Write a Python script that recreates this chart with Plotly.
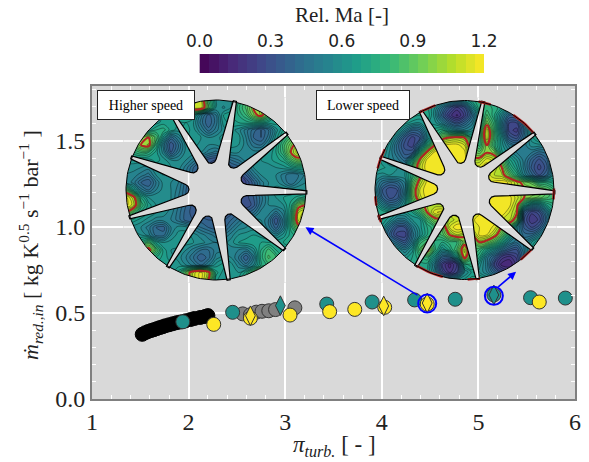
import math
import plotly.graph_objects as go

# --- scatter data -----------------------------------------------------------
black_x = [1.52, 1.55, 1.58, 1.61, 1.64, 1.67, 1.70, 1.73, 1.76, 1.80, 1.84, 1.88, 1.92, 1.97, 2.02, 2.06, 2.12, 2.17, 2.20]
black_y = [.376, .385, .392, .398, .403, .409, .415, .420, .426, .432, .438, .444, .448, .455, .462, .468, .474, .480, .485]
grey_x = [2.56, 2.64, 2.70, 2.76, 2.83, 2.90, 3.10]
grey_y = [.495, .490, .505, .510, .513, .520, .530]
teal_x = [1.94, 2.456, 3.43, 3.90, 4.34, 4.76, 5.16, 5.54, 5.90]
teal_y = [.449, .504, .552, .564, .576, .580, .605, .589, .587]
yellow_x = [2.26, 2.64, 3.05, 3.46, 3.72, 4.03, 4.47, 5.63]
yellow_y = [.434, .470, .488, .508, .521, .533, .552, .564]
dia_yellow_x = [2.64, 4.02, 4.47]
dia_yellow_y = [.484, .541, .558]
dia_teal_x = [2.95, 5.16]
dia_teal_y = [.543, .605]
ring_x = [4.47, 5.16]
ring_y = [.555, .600]

# --- colour bar ---------------------------------------------------------------
cbar_ticks = [0.0, 0.3, 0.6, 0.9, 1.2]
levels_start, levels_end, levels_size = 0.0, 1.2, 0.04
sonic_level = 1.0

# --- contour fields, percent of Mach, rows top to bottom ----
grid_axis = [-1 + i / 12 for i in range(25)]
field_high = [
[60,60,60,60,60,60,60,70,85,100,110,80,60,60,60,70,80,90,95,85,70,60,60,60,60],
[60,60,60,60,60,65,75,85,100,112,112,85,60,55,60,75,85,100,105,90,70,60,60,60,60],
[60,60,60,60,60,65,65,65,70,68,50,38,48,64,68,72,80,95,105,85,68,60,60,60,60],
[60,60,60,60,62,66,66,64,64,60,46,36,46,62,66,68,70,72,70,66,66,62,60,60,60],
[60,60,62,66,72,74,66,62,66,62,52,42,50,58,62,58,50,42,36,44,58,68,70,72,70],
[70,80,95,100,85,62,42,52,64,64,60,56,58,62,64,62,52,40,36,46,62,74,85,95,95],
[70,85,100,105,75,50,32,44,58,62,58,56,56,60,62,60,54,46,44,54,66,82,95,108,100],
[70,75,80,76,66,54,36,48,58,58,56,50,46,52,56,56,54,54,56,60,68,80,100,112,100],
[62,62,62,62,66,62,56,56,56,50,42,34,32,35,44,48,54,58,60,62,66,70,85,95,90],
[58,58,56,54,60,62,60,58,50,40,34,30,30,32,34,38,46,56,58,58,60,62,66,70,68],
[56,54,50,46,56,60,58,56,48,38,32,30,30,30,30,28,36,48,56,56,56,50,44,48,54],
[56,50,40,36,48,58,56,52,42,34,30,30,30,30,28,26,28,38,50,56,58,52,44,52,56],
[90,66,50,44,52,58,56,50,40,32,30,30,30,30,28,28,30,38,50,58,62,62,60,60,58],
[118,105,72,60,60,58,56,48,40,32,30,30,30,30,28,28,30,36,46,56,60,64,66,70,75],
[118,110,80,66,60,58,56,48,40,34,30,30,30,30,30,30,28,34,48,56,58,60,70,95,100],
[100,85,70,64,60,58,54,46,38,34,32,32,32,32,34,38,38,44,54,54,46,54,74,108,115],
[75,66,62,58,54,54,52,46,38,36,38,36,36,36,40,46,52,56,56,48,32,50,76,110,118],
[58,58,56,50,40,38,52,58,58,50,44,40,38,38,46,54,56,58,58,50,38,52,74,95,100],
[58,62,60,54,42,42,56,62,62,58,54,50,46,48,54,60,62,64,62,58,54,62,70,75,75],
[62,64,72,85,66,60,62,64,62,60,58,54,52,54,58,64,66,68,68,68,68,68,70,70,70],
[62,72,90,105,85,66,60,58,56,50,44,44,50,52,54,52,50,58,72,82,72,66,66,65,65],
[60,66,72,76,72,66,62,58,52,44,36,42,54,58,56,48,36,50,74,85,80,70,65,65,65],
[60,60,60,62,66,66,64,62,56,50,44,52,62,66,62,54,46,56,72,78,75,66,60,60,60],
[60,60,60,60,60,60,60,70,90,110,118,105,70,62,62,60,70,88,100,85,65,60,60,60,60],
[60,60,60,60,60,60,60,70,90,110,118,100,65,60,60,65,75,90,105,80,60,60,60,60,60],
]
field_low = [
[70,70,70,70,70,70,70,70,70,65,60,55,60,70,75,75,70,70,70,70,70,70,70,70,70],
[70,70,70,70,70,70,70,70,60,45,32,22,30,55,75,78,75,68,60,62,70,70,70,70,70],
[70,70,70,70,70,70,68,72,58,38,22,15,25,42,65,85,72,55,40,42,65,70,70,70,70],
[70,70,70,70,66,62,60,65,62,52,40,32,40,50,68,95,78,50,28,28,50,70,72,72,72],
[70,70,70,66,52,40,42,60,70,75,62,54,54,58,75,112,80,52,26,22,42,65,72,75,75],
[70,70,65,50,34,26,32,55,75,95,102,104,100,75,78,112,82,60,35,30,45,62,72,72,72],
[70,68,58,42,30,25,45,75,100,115,118,118,112,90,78,100,78,62,50,45,50,58,58,55,60],
[70,65,55,44,34,36,75,105,118,120,120,120,118,95,90,100,95,65,58,52,50,48,42,45,60],
[70,62,55,50,42,70,102,118,120,120,120,120,118,105,105,115,110,90,70,60,50,38,30,38,60],
[70,65,62,60,55,85,108,120,120,120,120,118,115,115,115,118,112,100,78,65,50,35,26,34,58],
[60,58,60,60,60,75,95,115,120,120,118,115,115,115,115,115,108,105,90,75,55,42,32,40,60],
[55,45,40,42,52,85,105,118,120,120,118,115,115,115,115,115,118,120,115,105,95,90,75,75,70],
[55,36,28,32,50,90,112,120,120,120,118,115,115,115,115,115,118,118,112,105,100,100,100,90,80],
[60,40,30,34,55,88,110,118,118,115,115,115,115,115,115,115,118,120,118,110,100,95,90,85,80],
[70,55,45,48,62,82,95,105,105,105,108,115,115,115,115,115,118,120,118,105,72,55,55,68,75],
[72,72,68,62,62,68,80,100,115,118,112,115,115,115,115,118,120,120,112,102,38,25,30,48,70],
[72,68,60,50,50,60,62,82,95,100,105,110,112,115,118,120,118,112,110,92,32,20,25,42,68],
[70,62,45,32,32,50,62,72,80,90,112,120,118,115,116,118,115,100,85,55,35,28,34,50,68],
[68,55,38,26,25,45,60,72,80,85,100,108,102,100,118,116,105,90,70,52,42,42,52,65,70],
[65,60,50,42,34,50,78,85,75,72,78,80,95,85,100,95,85,70,52,45,48,60,70,72,72],
[65,65,62,60,52,62,85,105,78,60,70,85,110,85,80,68,58,45,35,32,48,65,72,72,72],
[68,68,68,65,62,68,75,80,62,40,40,65,105,82,72,50,38,22,18,25,45,68,72,72,72],
[70,70,70,70,66,70,70,70,50,24,14,25,70,75,62,50,28,14,12,22,45,70,70,70,70],
[70,70,70,70,70,70,70,70,55,30,18,28,55,65,60,52,40,28,24,40,65,70,70,70,70],
[70,70,70,70,70,70,70,70,65,60,55,60,65,70,70,65,60,60,60,65,70,70,70,70,70],
]

# --- rotor geometry (degrees, fractions of disc radius) ------------------------
high_blades = [159, 120, 78, 38.6, -1.5, -41, -82, -122, -162.5]
high_tips = [136, 99, 57, 20, -20, -64, -105, -141, -181]
low_blades = [159, 119, 78, 38.8, -1.5, -41, -81.5, -122.5, -162]
low_tips = [141, 97.5, 60.8, 24, -21, -65, -108.6, -144, -182]
low_rim_arcs = [(153, 166), (184, 190), (196, 201), (-122, -104), (-88, -80), (-51, -42), (-6, 1), (40, 57), (73, 81), (109, 120)]

# --- layout constants (screen pixels) --------------------------------------------
W, H = 589, 462
BODY = 0
ML, MR, MT, MB = 92, 14, 30, 63
PLOT_TOP = 86
CW, CH = W - ML - MR, H - MT - MB       # area the axis domains refer to
PW, PH = CW, H - PLOT_TOP - MB          # main plot
XR, YR = (1, 6), (0, 1.82)
GREY = "#D9D9D9"
SERIF = "Liberation Serif"
G = 1.03  # inset axes reach a little past the contour grid


def dom_x(a, b):
    return [(a - ML) / CW, (b - ML) / CW]


def dom_y(top, bottom):
    return [(H - MB - bottom) / CH, (H - MB - top) / CH]


def star(blades, tips):
    pts = []
    for b, t in zip(blades, tips):
        pts.append((1.01 * math.cos(math.radians(b + 1.0)), 1.01 * math.sin(math.radians(b + 1.0))))
        pts.append((1.01 * math.cos(math.radians(b - 1.0)), 1.01 * math.sin(math.radians(b - 1.0))))
        w = 0.06
        tr = 0.30 + w
        cx, cy = tr * math.cos(math.radians(t)), tr * math.sin(math.radians(t))
        for d in (70, 35, 0, -35, -70):
            a = math.radians(t + 180 - d)
            pts.append((cx + w * math.cos(a), cy + w * math.sin(a)))
    return pts


def inside(p, poly):
    x, y = p
    c = False
    for i in range(len(poly)):
        (x1, y1), (x2, y2) = poly[i], poly[i - 1]
        if (y1 > y) != (y2 > y) and x < (x2 - x1) * (y - y1) / (y2 - y1) + x1:
            c = not c
    return c


def px_x(v):
    return ML + (v - XR[0]) / (XR[1] - XR[0]) * PW


def px_y(v):
    return H - MB - (v - YR[0]) / (YR[1] - YR[0]) * PH


def note(px, py, text, **kw):
    return dict(x=(px - ML) / CW, y=(H - MB - py) / CH, xref="paper", yref="paper", text=text, showarrow=False,
                xanchor="center", yanchor="middle", **kw)


fig = go.Figure()
ms = dict(mode="markers", showlegend=False, hoverinfo="skip", xaxis="x", yaxis="y")
fig.add_trace(go.Scatter(x=black_x, y=black_y, marker=dict(size=14, color="black", line=dict(color="black", width=1)), **ms))
fig.add_trace(go.Scatter(x=grey_x, y=grey_y, marker=dict(size=14, color="#808080", line=dict(color="#333", width=1)), **ms))
fig.add_trace(go.Scatter(x=teal_x, y=teal_y, marker=dict(size=14, color="#1F908B", line=dict(color="#333", width=1)), **ms))
fig.add_trace(go.Scatter(x=yellow_x, y=yellow_y, marker=dict(size=14, color="#FDE725", line=dict(color="#333", width=1)), **ms))
fig.add_trace(go.Scatter(x=dia_teal_x, y=dia_teal_y, marker=dict(size=14, symbol="diamond-tall", color="#1F908B", line=dict(color="#333", width=1)), **ms))
fig.add_trace(go.Scatter(x=dia_yellow_x, y=dia_yellow_y, marker=dict(size=14, symbol="diamond-tall", color="#FDE725", line=dict(color="#333", width=1)), **ms))
fig.add_trace(go.Scatter(x=ring_x, y=ring_y, marker=dict(size=18, color="rgba(0,0,0,0)", line=dict(color="#0000FF", width=2)), **ms))


def wheel(idx, field, blades, tips, cx, cy, R, gridx, arcs):
    xa, ya = f"x{idx}", f"y{idx}"
    z = [[v / 100 for v in row] for row in field]
    fig.add_trace(go.Contour(x=grid_axis, y=grid_axis[::-1], z=z, xaxis=xa, yaxis=ya, colorscale="Viridis",
                             zmin=0, zmax=1.2, zauto=False, showscale=False,
                             contours=dict(start=levels_start, end=levels_end, size=levels_size, coloring="fill"),
                             line=dict(color="rgba(0,0,0,0.75)", width=0.5, smoothing=1), hoverinfo="skip"))
    fig.add_trace(go.Contour(x=grid_axis, y=grid_axis[::-1], z=z, xaxis=xa, yaxis=ya, showscale=False,
                             contours=dict(start=sonic_level, end=sonic_level + 0.01, size=0.5, coloring="none"),
                             line=dict(color="#B22222", width=2, smoothing=1), hoverinfo="skip"))
    sp = star(blades, tips)
    sx = [p[0] for p in sp] + [sp[0][0]]
    sy = [p[1] for p in sp] + [sp[0][1]]
    base = dict(mode="lines", xaxis=xa, yaxis=ya, showlegend=False, hoverinfo="skip")
    fig.add_trace(go.Scatter(x=sx, y=sy, fill="toself", fillcolor=GREY, line=dict(width=0), **base))
    angs = list(range(0, 361, 2))
    circ_x = [math.cos(math.radians(a)) for a in angs]
    circ_y = [math.sin(math.radians(a)) for a in angs]
    e = G + 0.05
    mx = [1, e, e, -e, -e, e, 1] + circ_x[::-1]
    my = [0, 0, e, e, -e, -e, 0] + circ_y[::-1]
    fig.add_trace(go.Scatter(x=mx, y=my, fill="toself", fillcolor=GREY, line=dict(width=0), **base))
    gx, gy = [], []
    n = 412
    for gv in gridx:
        u = (px_x(gv) - cx) / R
        for k in range(n + 1):
            v = -G + 2 * G * k / n
            if u * u + v * v > 1 or inside((u, v), sp):
                gx.append(u); gy.append(v)
            else:
                gx.append(None); gy.append(None)
        gx.append(None); gy.append(None)
    for gv in (1.0, 1.5):
        v = (cy - px_y(gv)) / R
        for k in range(n + 1):
            u = -G + 2 * G * k / n
            if u * u + v * v > 1 or inside((u, v), sp):
                gx.append(u); gy.append(v)
            else:
                gx.append(None); gy.append(None)
        gx.append(None); gy.append(None)
    fig.add_trace(go.Scatter(x=gx, y=gy, line=dict(color="white", width=1.5), **base))
    fig.add_trace(go.Scatter(x=sx, y=sy, line=dict(color="black", width=1.2), **base))
    for a0, a1 in arcs:
        aa = [a0 + (a1 - a0) * k / 12 for k in range(13)]
        fig.add_trace(go.Scatter(x=[math.cos(math.radians(a)) for a in aa], y=[math.sin(math.radians(a)) for a in aa],
                                 line=dict(color="#B22222", width=2.5), **base))
    fig.add_trace(go.Scatter(x=circ_x, y=circ_y, line=dict(color="black", width=1), **base))
    hidden = dict(visible=False, range=[-G, G], fixedrange=True, automargin=False)
    fig.update_layout({
        f"xaxis{idx}": dict(domain=dom_x(cx - G * R, cx + G * R), anchor=ya, **hidden),
        f"yaxis{idx}": dict(domain=dom_y(cy - G * R, cy + G * R), anchor=xa, **hidden),
    })


wheel(2, field_high, high_blades, high_tips, 216, 190, 90, (2, 3), [])
wheel(3, field_low, low_blades, low_tips, 464.5, 190, 89.5, (4, 5), low_rim_arcs)

# colour strip with one cell per contour band
n_bands = int(round((levels_end - levels_start) / levels_size))
band_edges = [levels_start + levels_size * i for i in range(n_bands + 1)]
band_mid = [(a + b) / 2 for a, b in zip(band_edges[:-1], band_edges[1:])]
fig.add_trace(go.Heatmap(x=band_edges, y=[0, 1], z=[band_mid], xaxis="x4", yaxis="y4", colorscale="Viridis",
                         zmin=0, zmax=1.2, showscale=False, hoverinfo="skip"))

ax_common = dict(showline=True, linecolor="#808080", linewidth=2, mirror="allticks", zeroline=False, showgrid=True,
                 gridcolor="white", gridwidth=1.5, ticks="inside", ticklen=4, tickcolor="white", tickwidth=1.2,
                 automargin=False, tickfont=dict(family=SERIF, size=24, color="#222"))
main_y_dom = dom_y(PLOT_TOP, H - MB)
x_minor = dict(dtick=0.2, tick0=1, ticks="inside", ticklen=4, tickcolor="white", tickwidth=1.2, showgrid=False)
y_minor = dict(dtick=0.1, tick0=0, ticks="inside", ticklen=4, tickcolor="white", tickwidth=1.2, showgrid=False)
title_font = dict(family=SERIF, size=23, color="#222")
fig.update_layout(
    width=W - BODY, height=H - BODY, margin=dict(l=ML - BODY, r=MR, t=MT - BODY, b=MB, pad=0), autosize=False,
    paper_bgcolor="white", plot_bgcolor=GREY, showlegend=False,
    xaxis=dict(range=list(XR), dtick=1, tick0=1, domain=[0, 1], anchor="y", minor=x_minor, **ax_common),
    yaxis=dict(range=list(YR), dtick=0.5, tick0=0, tickformat=".1f", domain=main_y_dom, anchor="x", minor=y_minor,
               **ax_common),
    xaxis4=dict(domain=dom_x(199.5, 484), range=[0, 1.2], anchor="y4", side="top", tickvals=cbar_ticks,
                ticktext=[f"{t:.1f}" for t in cbar_ticks], ticks="", showline=False, showgrid=False, zeroline=False,
                tickfont=dict(family="DejaVu Sans", size=17, color="#222"), fixedrange=True, automargin=False,
                ticklabelstandoff=3),
    yaxis4=dict(domain=dom_y(54, 73), range=[0, 1], anchor="x4", visible=False, fixedrange=True, automargin=False),
    annotations=[
        dict(x=3.21, y=.998, ax=4.385, ay=.599, xref="x", yref="y", axref="x", ayref="y", text="", showarrow=True,
             arrowhead=2, arrowsize=1, arrowwidth=1.6, arrowcolor="#0000FF"),
        dict(x=5.39, y=.74, ax=5.19, ay=.644, xref="x", yref="y", axref="x", ayref="y", text="", showarrow=True,
             arrowhead=2, arrowsize=1, arrowwidth=1.6, arrowcolor="#0000FF"),
        note(146, 105, "Higher speed", font=dict(family=SERIF, size=14, color="black"), bgcolor="white",
             bordercolor="#222", borderwidth=1, width=94, height=26, align="center"),
        note(363, 105, "Lower speed", font=dict(family=SERIF, size=14, color="black"), bgcolor="white",
             bordercolor="#222", borderwidth=1, width=90, height=26, align="center"),
        note(342, 15, "Rel. Ma [-]", font=dict(family=SERIF, size=21, color="#222")),
        note(334, 446, "<i>π<sub>turb.</sub></i> [ - ]", font=title_font),
        note(31, 245, "<i>ṁ<sub>red.,in</sub></i> [ kg K<sup>0.5</sup> s<sup>−1</sup> bar<sup>−1</sup> ]",
             textangle=-90, font=dict(family=SERIF, size=22, color="#222")),
    ],
)
fig.write_html("out.html", post_script="document.body.style.margin='0';", config={"displayModeBar": False})
